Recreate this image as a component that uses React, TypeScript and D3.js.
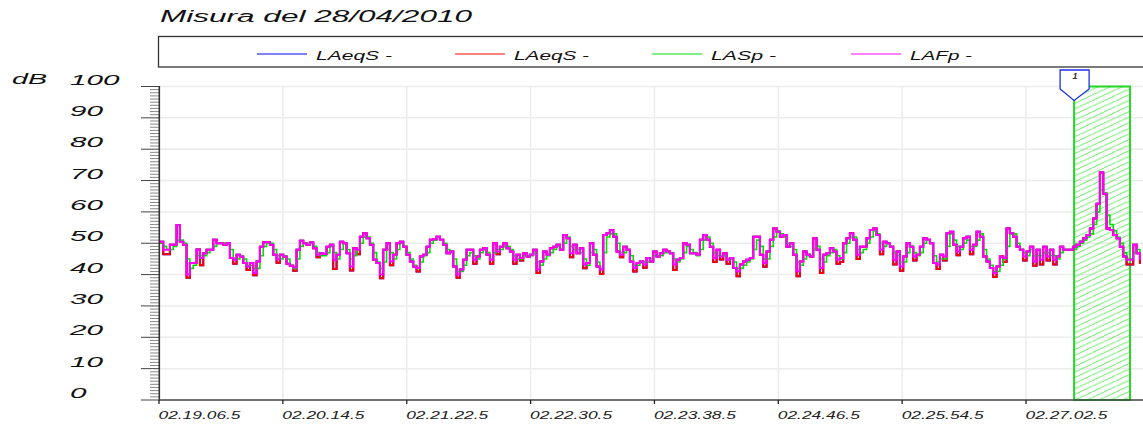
import React from "react";
import * as d3 from "d3";

const TITLE = "Misura del 28/04/2010";
const Y_UNIT = "dB";
const Y_TICKS = [0, 10, 20, 30, 40, 50, 60, 70, 80, 90, 100];
const X_TICK_SECONDS = [0, 68, 136, 204, 272, 340, 408, 476];
const X_TICK_LABELS = ["02.19.06.5", "02.20.14.5", "02.21.22.5", "02.22.30.5", "02.23.38.5", "02.24.46.5", "02.25.54.5", "02.27.02.5"];
const X_DOMAIN_SECONDS = [0, 540];
const SAMPLE_START_SEC = 0.5;
const SAMPLE_STEP_SEC = 1.83;

const SERIES_NAMES = ["LAeqS -", "LAeqS -", "LASp -", "LAFp -"];
const SERIES_COLORS = ["#0000ff", "#ff0000", "#00e000", "#ff00ff"];

const LAFP = [
  50.5, 47.9, 47.9, 49.5, 49.5, 55.8, 50.5, 49.5, 40.0, 43.7,
  43.7, 48.0, 45.3, 46.8, 47.9, 47.9, 51.1, 50.0, 50.0, 49.5,
  50.0, 45.3, 44.7, 46.3, 45.8, 43.7, 42.6, 43.7, 40.5, 44.2,
  48.9, 50.3, 50.3, 49.5, 46.3, 44.9, 46.3, 45.8, 43.5, 42.8,
  42.3, 47.9, 50.8, 50.0, 49.5, 50.2, 48.4, 46.3, 46.8, 46.6,
  48.9, 49.5, 44.7, 46.3, 50.5, 50.0, 46.8, 42.6, 48.4, 47.9,
  52.1, 53.2, 51.6, 49.5, 44.7, 43.7, 40.0, 47.9, 50.0, 44.2,
  46.3, 50.0, 50.5, 48.9, 46.3, 44.2, 42.6, 42.1, 45.8, 46.3,
  48.9, 51.1, 51.3, 52.1, 51.1, 49.5, 46.8, 47.4, 42.6, 40.0,
  41.6, 44.7, 47.9, 47.9, 44.7, 45.8, 47.9, 48.4, 46.3, 44.7,
  50.0, 47.4,
  48.9, 50.0, 48.4, 47.4, 44.7, 46.3, 45.3, 46.8, 45.8, 46.3,
  47.9, 41.6, 44.2, 47.4, 46.3, 48.4, 48.9, 49.5, 47.9, 52.6,
  51.6, 46.8, 49.5, 46.8, 48.4, 43.2, 43.7, 50.0, 46.3, 42.6,
  41.6, 52.6, 53.2, 54.2, 52.1, 47.4, 46.3, 48.9, 47.9, 44.2,
  42.1, 43.7, 44.2, 43.2, 45.3, 44.2, 47.4, 45.8, 46.8, 47.9,
  47.4, 46.8, 43.2, 44.7, 45.3, 50.0, 49.5, 46.8, 46.8, 46.3,
  51.1, 52.6, 51.1, 48.9, 45.3, 47.9, 45.8, 46.8, 44.7, 45.3,
  42.1, 41.1, 43.2, 44.2, 44.7, 45.3, 52.1, 52.1, 46.3, 43.7,
  47.4, 51.1, 54.7, 53.7, 52.1, 52.6, 48.9, 50.0, 46.3, 41.1,
  44.2, 47.4, 46.3, 45.8, 51.6, 47.9, 42.1, 46.3, 46.8, 48.4,
  47.4, 44.7,
  45.3, 50.0, 51.6, 53.2, 51.1, 46.3, 48.9, 48.9, 51.6, 54.2,
  54.7, 52.6, 47.9, 50.5, 50.0, 48.9, 44.7, 47.4, 42.6, 45.8,
  50.0, 48.9, 45.8, 46.3, 48.9, 51.6, 51.1, 50.0, 43.7, 43.2,
  46.3, 45.8, 53.2, 53.7, 49.5, 47.4, 48.9, 51.6, 52.1, 47.9,
  49.5, 53.7, 52.1, 45.8, 44.2, 42.1, 40.5, 42.6, 45.8, 45.3,
  54.7, 53.2, 52.1, 48.9, 47.9, 45.8, 47.4, 48.9, 44.2, 47.9,
  44.7, 48.9, 45.8, 47.9, 44.7, 45.8, 48.9, 47.9, 47.9, 47.9,
  48.9, 49.5, 50.5, 51.6, 52.6, 54.7, 57.9, 62.6, 72.6, 65.8,
  54.7, 54.2, 52.6, 51.6, 48.9, 45.8, 44.7, 44.7, 49.5, 46.8,
  44.7,
];

const LAEQS = [
  50.5, 46.5, 46.5, 49.5, 49.5, 55.8, 50.5, 49.5, 39.0, 43.7,
  43.7, 48.0, 43.0, 46.8, 47.9, 47.9, 51.1, 50.0, 50.0, 49.5,
  50.0, 45.3, 43.5, 46.3, 45.8, 43.7, 41.5, 43.7, 39.8, 44.2,
  48.9, 50.3, 50.3, 49.5, 46.3, 43.8, 46.3, 45.8, 43.5, 42.8,
  41.2, 47.9, 50.8, 50.0, 49.5, 50.2, 48.4, 45.5, 46.8, 46.6,
  48.9, 49.5, 41.8, 46.3, 50.5, 50.0, 46.8, 41.3, 48.4, 46.5,
  52.1, 53.2, 51.6, 49.5, 44.7, 43.7, 38.8, 47.9, 50.0, 43.0,
  46.3, 50.0, 50.5, 48.9, 46.3, 44.2, 42.6, 41.0, 45.8, 46.3,
  48.9, 51.1, 51.3, 52.1, 51.1, 49.5, 46.8, 47.4, 42.6, 39.0,
  41.6, 44.7, 47.9, 47.9, 43.5, 45.8, 47.9, 48.4, 46.3, 43.5,
  50.0, 46.5,
  48.9, 50.0, 48.4, 47.4, 43.5, 46.3, 44.5, 46.8, 45.8, 46.3,
  47.9, 40.5, 44.2, 47.4, 46.3, 48.4, 48.9, 49.5, 47.9, 52.6,
  51.6, 45.5, 49.5, 46.8, 48.4, 42.0, 43.7, 50.0, 46.3, 42.6,
  40.2, 52.6, 53.2, 54.2, 52.1, 47.4, 45.5, 48.9, 47.9, 44.2,
  41.0, 43.7, 44.2, 42.2, 45.3, 44.2, 47.4, 45.8, 46.8, 47.9,
  47.4, 46.8, 41.5, 44.7, 45.3, 50.0, 49.5, 46.8, 46.8, 46.3,
  51.1, 52.6, 51.1, 48.9, 44.0, 47.9, 44.8, 46.8, 43.5, 45.3,
  42.1, 39.5, 43.2, 44.2, 44.7, 45.3, 52.1, 52.1, 46.3, 42.5,
  47.4, 51.1, 54.7, 53.7, 52.1, 52.6, 48.9, 50.0, 46.3, 39.5,
  44.2, 47.4, 46.3, 45.8, 51.6, 47.9, 40.5, 46.3, 46.8, 48.4,
  47.4, 43.5,
  44.0, 50.0, 51.6, 53.2, 51.1, 45.0, 48.9, 48.9, 51.6, 54.2,
  54.7, 52.6, 46.5, 50.5, 50.0, 48.9, 43.2, 47.4, 41.2, 45.8,
  50.0, 48.9, 44.5, 46.3, 48.9, 51.6, 51.1, 50.0, 43.7, 41.8,
  46.3, 44.5, 53.2, 53.7, 49.5, 46.2, 48.9, 51.6, 52.1, 46.5,
  49.5, 53.7, 52.1, 45.8, 44.2, 42.1, 39.2, 42.6, 45.8, 44.0,
  54.7, 53.2, 52.1, 48.9, 47.9, 44.5, 47.4, 48.9, 42.8, 47.9,
  43.2, 48.9, 44.5, 47.9, 43.2, 45.8, 48.9, 47.9, 47.9, 47.9,
  48.9, 49.5, 50.5, 51.6, 52.6, 54.7, 57.9, 62.6, 72.6, 65.8,
  54.7, 54.2, 52.6, 51.6, 48.9, 45.8, 43.2, 43.2, 49.5, 46.8,
  43.5,
];

const LASP = [
  50, 49, 48, 48, 49, 51, 51, 50, 45, 42,
  43, 46, 46, 46, 47, 48, 49, 50, 50, 50,
  50, 48, 45, 45, 46, 45, 43, 43, 42, 42,
  46, 49, 50, 50, 48, 46, 45, 46, 45, 43,
  42, 45, 49, 50, 50, 50, 49, 47, 46, 46,
  47, 49, 47, 45, 48, 50, 48, 45, 46, 48,
  50, 52, 52, 50, 47, 44, 42, 44, 48, 47,
  45, 48, 50, 49, 47, 45, 43, 42, 44, 46,
  47, 50, 51, 52, 51, 50, 48, 47, 45, 41,
  41, 43, 46, 47, 46, 45, 47, 48, 47, 45,
  47, 48,
  48, 49, 49, 48, 46, 45, 45, 46, 46, 46,
  47, 44, 43, 45, 46, 47, 48, 49, 48, 50,
  52, 49, 48, 48, 47, 45, 43, 47, 48, 44,
  42, 47, 52, 53, 53, 50, 47, 47, 48, 46,
  43, 43, 44, 44, 44, 45, 46, 46, 46, 47,
  47, 47, 45, 44, 45, 47, 49, 48, 47, 46,
  48, 51, 52, 50, 47, 46, 46, 46, 45, 45,
  44, 42, 42, 43, 44, 45, 48, 51, 49, 45,
  45, 49, 52, 54, 53, 52, 50, 49, 48, 44,
  43, 45, 46, 46, 48, 49, 45, 44, 46, 47,
  48, 46,
  45, 47, 50, 52, 52, 48, 47, 48, 50, 52,
  54, 53, 50, 49, 50, 49, 47, 46, 44, 44,
  47, 49, 47, 46, 47, 50, 51, 50, 46, 44,
  45, 45, 49, 53, 51, 49, 48, 50, 51, 49,
  49, 51, 53, 48, 45, 43, 41, 41, 43, 45,
  49, 53, 53, 50, 48, 47, 46, 48, 46, 46,
  46, 47, 47, 46, 46, 45, 47, 48, 48, 48,
  48, 49, 50, 51, 52, 53, 56, 60, 67, 66,
  59, 56, 54, 52, 50, 47, 45, 45, 47, 48,
  46,
];

const SERIES_VALUES = [LAEQS, LAEQS, LASP, LAFP];

const MARKER_LABEL = "1";
const MARKER_START_SEC = 502.4;
const MARKER_END_SEC = 533.1;

const FONT = "'Liberation Sans', Arial, sans-serif";

export default function App() {
  const W = 1143;
  const H = 424;
  const x = d3.scaleLinear().domain(X_DOMAIN_SECONDS).range([159, 1142.6]);
  const y = d3.scaleLinear().domain([0, 100]).range([400, 86.5]);

  const line = d3
    .line<number>()
    .x((_, i) => x(SAMPLE_START_SEC + i * SAMPLE_STEP_SEC))
    .y((d) => y(d))
    .curve(d3.curveStepAfter);

  const minorTicks = d3.range(0, 101, 1);
  const legendX = [257, 455, 652, 851];
  const legendTextLen = [76, 75, 65, 62];

  const mx0 = x(MARKER_START_SEC);
  const mx1 = x(MARKER_END_SEC);

  return (
    <svg
      width={W}
      height={H}
      style={{ position: "absolute", left: 0, top: 0, background: "#fff" }}
      fontFamily={FONT}
    >
      <defs>
        <pattern id="hatch" patternUnits="userSpaceOnUse" width="12" height="5.6">
          <line x1="0" y1="5.6" x2="12" y2="0" stroke="#4be84b" strokeWidth="0.9" />
          <line x1="-12" y1="5.6" x2="0" y2="0" stroke="#4be84b" strokeWidth="0.9" />
          <line x1="12" y1="5.6" x2="24" y2="0" stroke="#4be84b" strokeWidth="0.9" />
        </pattern>
        <clipPath id="plotclip">
          <rect x={159} y={80} width={W - 159} height={321} />
        </clipPath>
      </defs>
      <rect x={0} y={0} width={W} height={H} fill="#fff" />

      {/* title */}
      <text x={160} y={22} fontSize={16} fontStyle="italic" fill="#111" textLength={312} lengthAdjust="spacingAndGlyphs">
        {TITLE}
      </text>

      {/* legend */}
      <rect x={158.5} y={36.5} width={1100} height={30.5} fill="#fff" stroke="#333" strokeWidth={1.3} />
      {SERIES_NAMES.map((name, i) => (
        <g key={"lg" + i}>
          <line x1={legendX[i]} x2={legendX[i] + 50} y1={54} y2={54} stroke={SERIES_COLORS[i]} strokeWidth={1} />
          <text
            x={legendX[i] + 59}
            y={60}
            fontSize={13}
            fontStyle="italic"
            fill="#111"
            textLength={legendTextLen[i]}
            lengthAdjust="spacingAndGlyphs"
          >
            {name}
          </text>
        </g>
      ))}

      {/* grid */}
      {Y_TICKS.map((t) => (
        <line key={"gy" + t} x1={159} x2={W} y1={y(t)} y2={y(t)} stroke="#ececec" strokeWidth={1.5} />
      ))}
      {X_TICK_SECONDS.slice(1).map((t) => (
        <line key={"gx" + t} x1={x(t)} x2={x(t)} y1={86.5} y2={400} stroke="#ececec" strokeWidth={1.5} />
      ))}

      {/* marker region */}
      <rect x={mx0} y={y(100)} width={mx1 - mx0} height={y(0) - y(100)} fill="url(#hatch)" stroke="#22d822" strokeWidth={2} />

      {/* series */}
      <g clipPath="url(#plotclip)">
        {SERIES_VALUES.map((vals, i) => (
          <path
            key={"s" + i}
            d={line(vals) || ""}
            fill="none"
            stroke={SERIES_COLORS[i]}
            strokeWidth={i === 2 ? 1.6 : 2}
            strokeLinejoin="miter"
          />
        ))}
      </g>

      {/* marker flag */}
      <path
        d={`M${mx0 - 14},70 L${mx0 + 15},70 L${mx0 + 15},89 L${mx0},100.5 L${mx0 - 14},89 Z`}
        fill="#fff"
        stroke="#1f2fe8"
        strokeWidth={1.3}
      />
      <text x={mx0 + 1} y={79} fontSize={9} fontStyle="italic" fontWeight="bold" textAnchor="middle" fill="#333">
        {MARKER_LABEL}
      </text>

      {/* y axis */}
      {minorTicks.map((t) => (
        <line
          key={"mt" + t}
          x1={t % 10 === 0 ? 141 : 150}
          x2={159}
          y1={y(t)}
          y2={y(t)}
          stroke={t % 10 === 0 ? "#444" : "#888"}
          strokeWidth={1}
        />
      ))}
      <line x1={159.3} x2={159.3} y1={86} y2={400.5} stroke="#333" strokeWidth={1.6} />
      {Y_TICKS.map((t) => {
        const s = String(t);
        return (
          <text
            key={"yl" + t}
            x={70}
            y={y(t) - 2}
            fontSize={15}
            fontStyle="italic"
            fill="#111"
            textLength={16.5 * s.length}
            lengthAdjust="spacingAndGlyphs"
          >
            {s}
          </text>
        );
      })}
      <text x={12} y={84} fontSize={15} fontStyle="italic" fill="#111" textLength={35} lengthAdjust="spacingAndGlyphs">
        {Y_UNIT}
      </text>

      {/* x axis */}
      <line x1={159} x2={W} y1={400} y2={400} stroke="#444" strokeWidth={1.3} />
      {X_TICK_SECONDS.map((t, i) => (
        <g key={"xt" + t}>
          <line x1={x(t)} x2={x(t)} y1={400} y2={404} stroke="#222" strokeWidth={1.3} />
          <text
            x={x(t) - 0.5}
            y={419}
            fontSize={10}
            fontStyle="italic"
            fill="#222"
            textLength={82}
            lengthAdjust="spacingAndGlyphs"
          >
            {X_TICK_LABELS[i]}
          </text>
        </g>
      ))}
    </svg>
  );
}
